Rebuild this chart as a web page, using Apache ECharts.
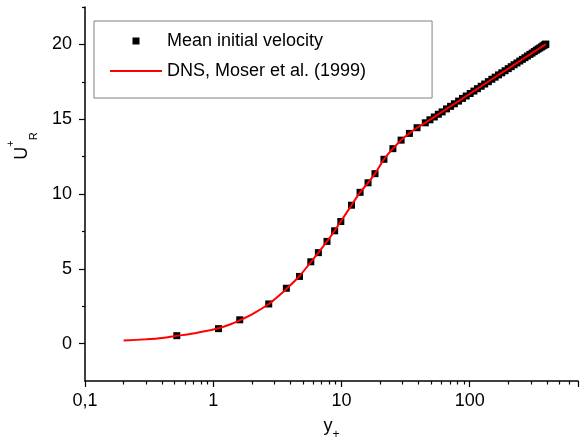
<!DOCTYPE html>
<html>
<head>
<meta charset="utf-8">
<script src="https://cdn.jsdelivr.net/npm/echarts@6/dist/echarts.min.js"></script>
<style>
  html, body { margin: 0; padding: 0; background: #fff; }
  #chart { width: 581px; height: 446px; }
</style>
</head>
<body>
<div id="chart"></div>
<script>
// mean initial velocity, squares (y+, U+R)
var markY = [0.52, 1.10, 1.61, 2.71, 3.72, 4.71, 5.77, 6.61, 7.72, 8.85, 9.89, 11.98, 13.98, 16.13, 18.27,
  21.45, 25.2, 29.2, 33.9, 38.9, 45.1, 49, 53, 57, 61, 66, 71, 76, 82, 88, 94, 101, 108, 115, 123, 131,
  140, 149, 158, 168, 178, 189, 200, 211, 222, 234, 246, 258, 270, 282, 295, 307, 319, 331, 342, 353,
  363, 372, 380, 386, 390, 393];
var markU = [0.53, 1.00, 1.59, 2.65, 3.70, 4.49, 5.47, 6.08, 6.83, 7.54, 8.16, 9.25, 10.11, 10.75, 11.36,
  12.32, 13.03, 13.60, 14.05, 14.43, 14.76, 14.96, 15.15, 15.33, 15.49, 15.69, 15.86, 16.03, 16.21, 16.39,
  16.55, 16.72, 16.88, 17.04, 17.20, 17.35, 17.51, 17.67, 17.81, 17.96, 18.10, 18.24, 18.38, 18.51, 18.64,
  18.76, 18.89, 19.00, 19.11, 19.22, 19.33, 19.42, 19.52, 19.61, 19.69, 19.76, 19.83, 19.89, 19.94, 19.98,
  20.00, 20.02];

// DNS, Moser et al. (1999)
var dnsY = [0.2, 0.3, 0.4, 0.52, 0.7, 0.9, 1.1, 1.35, 1.61, 2.1, 2.71, 3.2, 3.72, 4.71, 5.77, 6.61, 7.72,
  8.85, 9.89, 11.98, 13.98, 16.13, 18.27, 21.45, 25.2, 29.2, 33.9, 38.9, 45.1, 55, 66, 82, 101, 123, 149,
  178, 211, 246, 282, 319, 353, 380, 393];
var dnsU = [0.2, 0.29, 0.38, 0.52, 0.68, 0.86, 1.03, 1.28, 1.55, 2.05, 2.65, 3.15, 3.65, 4.52, 5.45, 6.08,
  6.83, 7.54, 8.16, 9.25, 10.11, 10.75, 11.36, 12.32, 13.03, 13.60, 14.05, 14.43, 14.76, 15.24, 15.69,
  16.21, 16.72, 17.20, 17.67, 18.10, 18.51, 18.89, 19.22, 19.52, 19.76, 19.94, 20.02];

var xMinor = [0.2, 0.3, 0.4, 0.5, 0.6, 0.7, 0.8, 0.9, 2, 3, 4, 5, 6, 7, 8, 9,
  20, 30, 40, 50, 60, 70, 80, 90, 200, 300, 400, 500, 600];
var yMajor = [0, 5, 10, 15, 20];
var yMinor = [2.5, 7.5, 12.5, 17.5, 22.5];

var FONT = '"Liberation Sans", Arial, sans-serif';
var xMin = 0.1, xMax = 700;

function pairs(xs, ys) {
  return xs.map(function (x, i) { return [x, ys[i]]; });
}

var chart = echarts.init(document.getElementById('chart'));
chart.setOption({
  animation: false,
  textStyle: { fontFamily: FONT, color: '#000' },
  grid: { left: 85, right: 0, top: 7, bottom: 63 },
  legend: {
    orient: 'vertical',
    left: 94,
    top: 21,
    padding: [11, 66, 18, 16],
    borderColor: '#808080',
    borderWidth: 1,
    itemWidth: 52,
    itemHeight: 7,
    itemGap: 12,
    symbolKeepAspect: true,
    textStyle: { fontFamily: FONT, fontSize: 18, lineHeight: 18, color: '#000' },
    data: [
      { name: 'Mean initial velocity', icon: 'path://M0,0H10V10H0Z' },
      { name: 'DNS, Moser et al. (1999)', icon: 'path://M0,0H52V2H0Z' }
    ]
  },
  xAxis: [
    {
      type: 'log',
      logBase: 10,
      min: xMin,
      max: xMax,
      position: 'bottom',
      name: '{y|y}{p|+}',
      nameLocation: 'middle',
      nameGap: 30,
      nameTextStyle: {
        rich: {
          y: { fontFamily: FONT, fontSize: 18, lineHeight: 30, verticalAlign: 'middle', color: '#000' },
          p: { fontFamily: FONT, fontSize: 12, lineHeight: 12, verticalAlign: 'bottom', color: '#000' }
        }
      },
      axisLine: { onZero: false, lineStyle: { color: '#000', width: 1.5 } },
      axisTick: { length: 6, lineStyle: { color: '#000', width: 1.2 } },
      axisLabel: {
        margin: 11,
        fontSize: 18,
        color: '#000',
        formatter: function (v) {
          var l = Math.log10(v);
          if (Math.abs(l - Math.round(l)) > 1e-6) return '';
          return v < 1 ? '0,1' : String(Math.round(v));
        }
      },
      splitLine: { show: false }
    },
    {
      // minor ticks, on log10(y+)
      type: 'value',
      min: Math.log10(xMin),
      max: Math.log10(xMax),
      position: 'bottom',
      axisLine: { show: false, onZero: false },
      axisTick: { length: 3.5, customValues: xMinor.map(Math.log10), lineStyle: { color: '#000', width: 1.2 } },
      axisLabel: { show: false },
      splitLine: { show: false }
    }
  ],
  yAxis: [
    {
      type: 'value',
      min: -2.5,
      max: 22.5,
      interval: 2.5,
      position: 'left',
      axisLine: { show: true, onZero: false, lineStyle: { color: '#000', width: 1.5 } },
      axisTick: { show: true, length: 6, customValues: yMajor, lineStyle: { color: '#000', width: 1.2 } },
      axisLabel: { margin: 13, fontSize: 18, color: '#000', customValues: yMajor },
      splitLine: { show: false }
    },
    {
      type: 'value',
      min: -2.5,
      max: 22.5,
      interval: 2.5,
      position: 'left',
      axisLine: { show: false, onZero: false },
      axisTick: { show: true, length: 3, customValues: yMinor, lineStyle: { color: '#000', width: 1.2 } },
      axisLabel: { show: false },
      splitLine: { show: false }
    }
  ],
  graphic: [{
    type: 'text',
    x: 22,
    y: 146,
    rotation: Math.PI / 2,
    style: {
      text: '{u|U}{s|+}{r|R}',
      align: 'center',
      verticalAlign: 'middle',
      rich: {
        u: { fontFamily: FONT, fontSize: 18, lineHeight: 34, verticalAlign: 'middle', fill: '#000' },
        s: { fontFamily: FONT, fontSize: 11, lineHeight: 11, verticalAlign: 'top', fill: '#000' },
        r: { fontFamily: FONT, fontSize: 11, lineHeight: 11, verticalAlign: 'bottom', fill: '#000' }
      }
    }
  }],
  series: [
    {
      name: 'Mean initial velocity',
      type: 'scatter',
      xAxisIndex: 0,
      yAxisIndex: 0,
      symbol: 'rect',
      symbolSize: 7,
      itemStyle: { color: '#000', opacity: 1 },
      data: pairs(markY, markU)
    },
    {
      name: 'DNS, Moser et al. (1999)',
      type: 'line',
      xAxisIndex: 0,
      yAxisIndex: 0,
      symbol: 'none',
      smooth: 0.3,
      lineStyle: { color: '#ff0000', width: 2 },
      itemStyle: { color: '#ff0000' },
      data: pairs(dnsY, dnsU)
    }
  ]
});
</script>
</body>
</html>
